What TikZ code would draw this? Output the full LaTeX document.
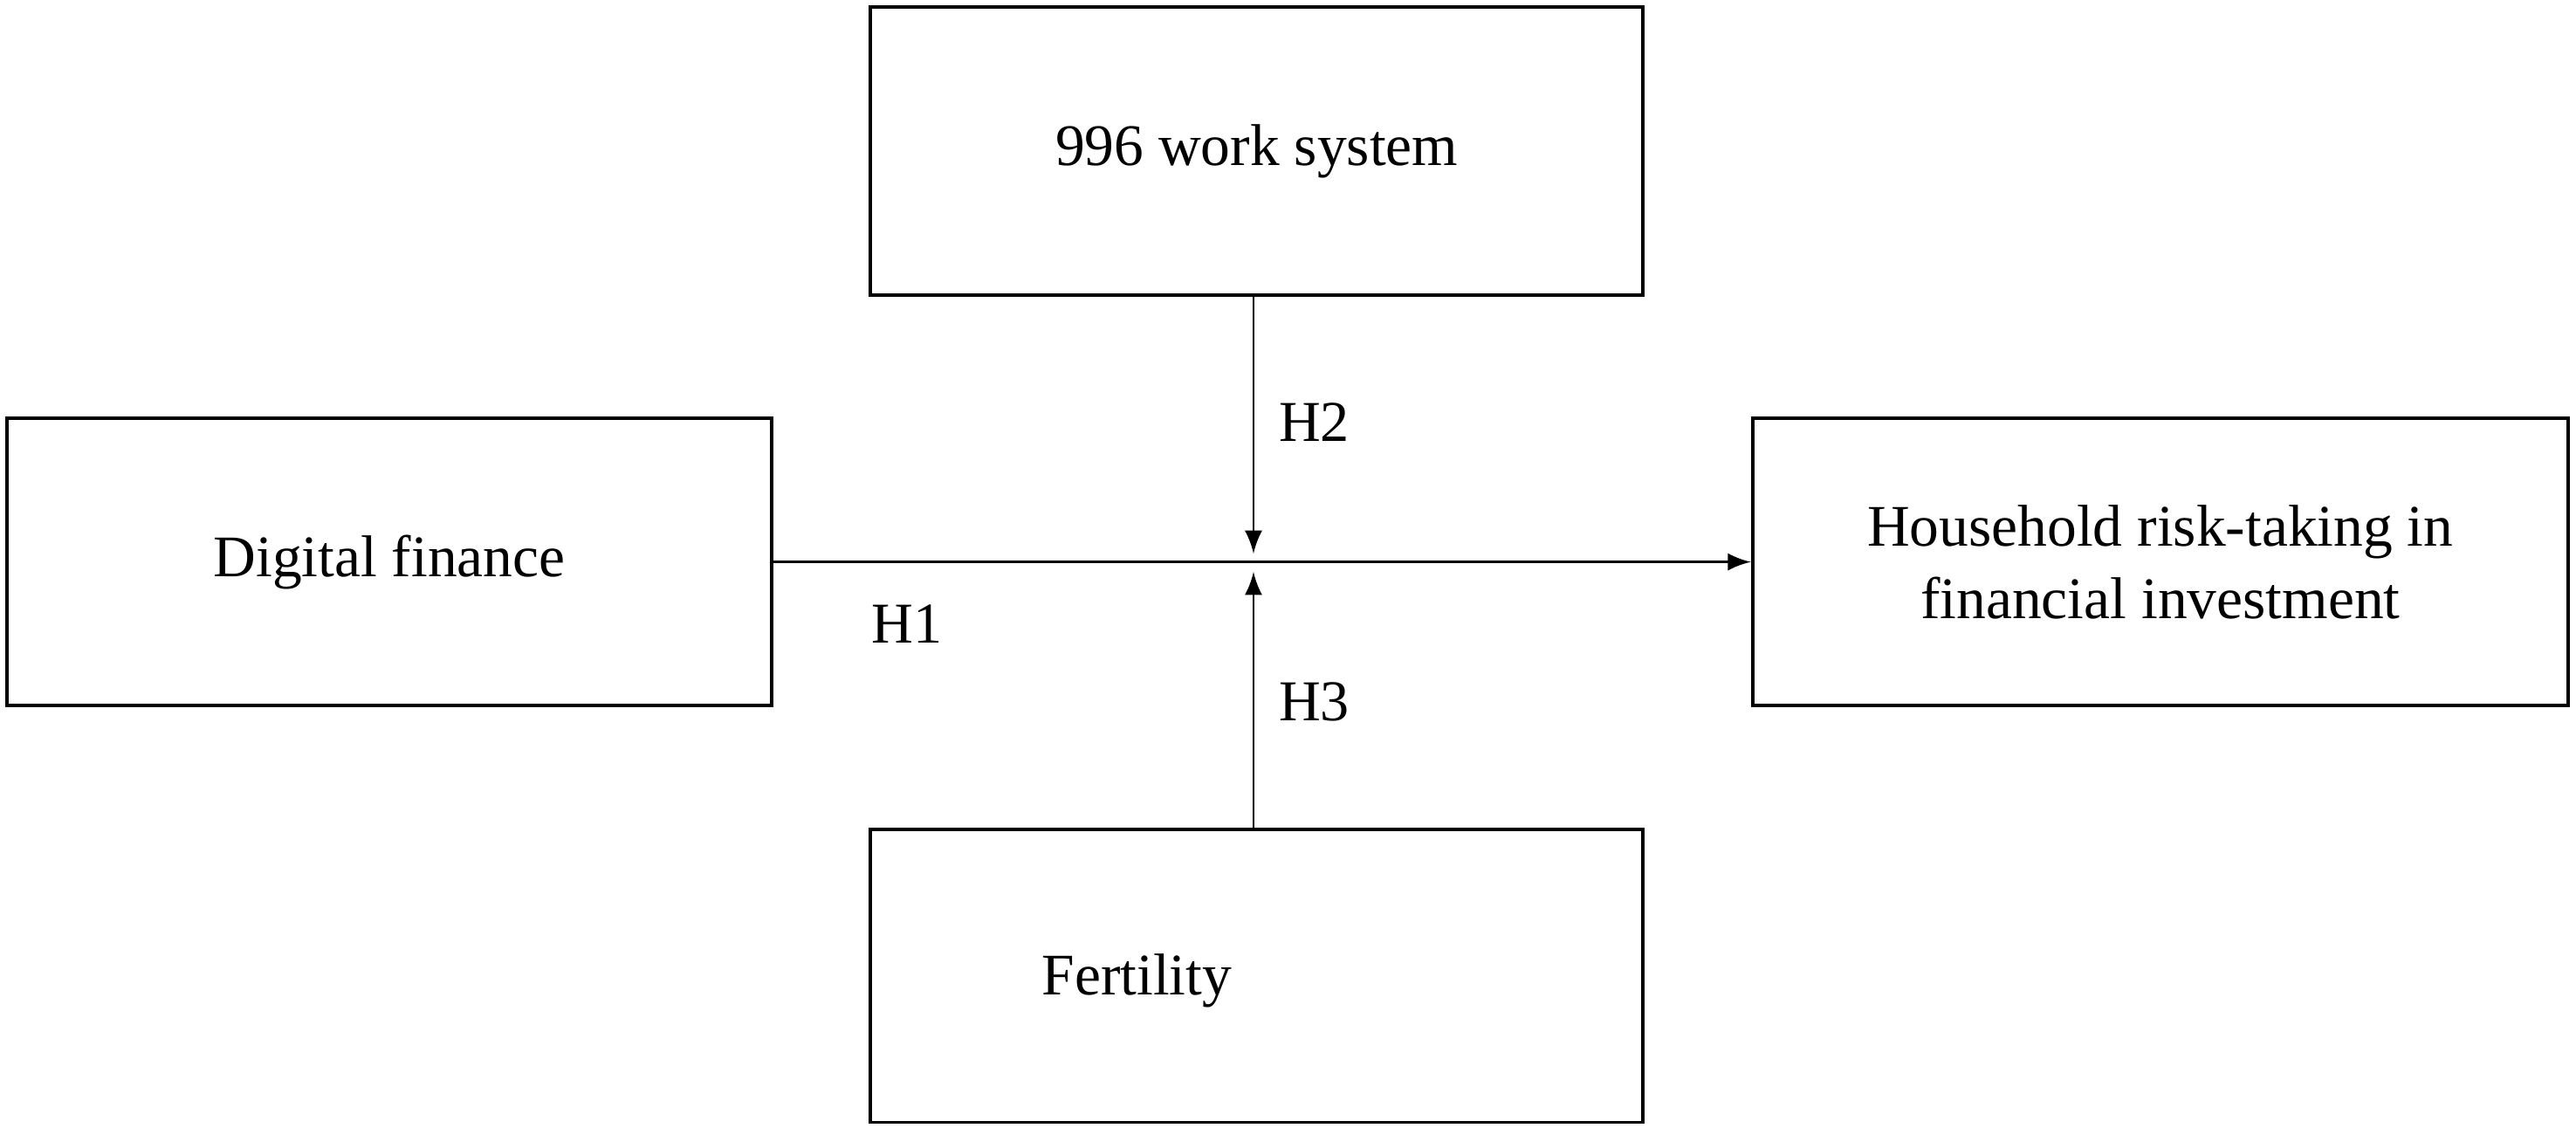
\documentclass[tikz,border=0pt]{standalone}
\usepackage{fontspec}
\setmainfont{Liberation Serif}
\begin{document}
\begin{tikzpicture}[x=0.01cm,y=-0.01cm,
  box/.style={draw,line width=0.6pt,inner sep=0pt,align=center,font=\fontsize{10.2}{12.5}\selectfont},
  txt/.style={inner sep=0pt,font=\fontsize{10.2}{12.5}\selectfont},
  lab/.style={font=\fontsize{10}{12}\selectfont},
  arr/.style={->,>=latex,line width=0.4pt}]
\useasboundingbox (0,0) rectangle (1568,686);
\node[box,minimum width=4.7cm,minimum height=1.75cm] (top) at (765,92) {996 work system};
\node[box,minimum width=4.65cm,minimum height=1.75cm] (left) at (237,342) {Digital finance};
\node[box,minimum width=4.96cm,minimum height=1.75cm] (right) at (1315,342) {Household risk-taking in\\financial investment};
\node[box,minimum width=4.7cm,minimum height=1.78cm] (bot) at (765,594) {};
\node[txt] (fert) at (692,597) {Fertility};
\coordinate (j) at (763,342);
\coordinate (jt) at (763,337);
\coordinate (jb) at (763,348);
\draw[arr] (left.east) -- (right.west);
\draw[arr] (top.south -| j) -- (jt);
\draw[arr] (bot.north -| j) -- (jb);
\node[lab] (h2) at (800,257) {H2};
\node[lab] (h1) at (552,380) {H1};
\node[lab] (h3) at (800,427) {H3};
\end{tikzpicture}
\end{document}
